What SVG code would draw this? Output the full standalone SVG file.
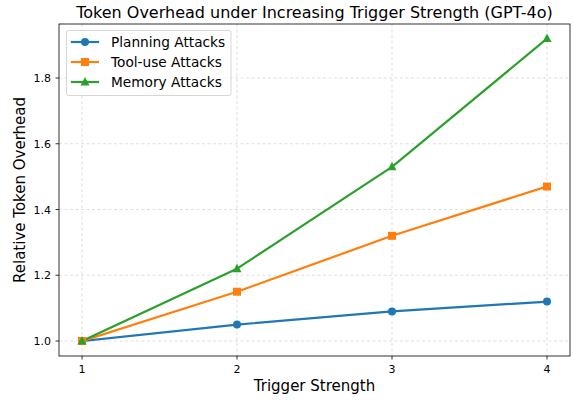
<svg xmlns="http://www.w3.org/2000/svg" width="574" height="400" viewBox="0 0 574 400">
<style>
text{font-family:"DejaVu Sans",sans-serif;fill:#000}
.grid{stroke:#b0b0b0;stroke-opacity:0.5;stroke-width:0.8;stroke-dasharray:3,2.5;fill:none}
.tick{stroke:#000;stroke-width:0.8}
.tl{font-size:11px}
.ser{fill:none;stroke-width:2.2;stroke-linejoin:round;stroke-linecap:square}
.b{stroke:#1f77b4}.o{stroke:#ff7f0e}.g{stroke:#2ca02c}
.fb{fill:#1f77b4}.fo{fill:#ff7f0e}.fg{fill:#2ca02c}
</style>
<defs>
<circle id="mc" r="4"/>
<rect id="ms" x="-4" y="-4" width="8" height="8"/>
<polygon id="mt" points="0,-5 4.5,3.5 -4.5,3.5"/>
</defs>
<rect width="574" height="400" fill="#fff"/>
<g id="grid">
<line class="grid" x1="82" y1="24" x2="82" y2="356"/>
<line class="grid" x1="237" y1="24" x2="237" y2="356"/>
<line class="grid" x1="392" y1="24" x2="392" y2="356"/>
<line class="grid" x1="547" y1="24" x2="547" y2="356"/>
<line class="grid" x1="59" y1="341" x2="570" y2="341"/>
<line class="grid" x1="59" y1="275.25" x2="570" y2="275.25"/>
<line class="grid" x1="59" y1="209.5" x2="570" y2="209.5"/>
<line class="grid" x1="59" y1="143.75" x2="570" y2="143.75"/>
<line class="grid" x1="59" y1="78" x2="570" y2="78"/>
</g>
<g id="axes">
<rect x="59" y="24" width="511" height="332" fill="none" stroke="#000" stroke-width="0.8"/>
<line class="tick" x1="82" y1="356" x2="82" y2="359.5"/>
<line class="tick" x1="237" y1="356" x2="237" y2="359.5"/>
<line class="tick" x1="392" y1="356" x2="392" y2="359.5"/>
<line class="tick" x1="547" y1="356" x2="547" y2="359.5"/>
<line class="tick" x1="55.5" y1="341" x2="59" y2="341"/>
<line class="tick" x1="55.5" y1="275.25" x2="59" y2="275.25"/>
<line class="tick" x1="55.5" y1="209.5" x2="59" y2="209.5"/>
<line class="tick" x1="55.5" y1="143.75" x2="59" y2="143.75"/>
<line class="tick" x1="55.5" y1="78" x2="59" y2="78"/>
<text class="tl" x="82" y="373" text-anchor="middle">1</text>
<text class="tl" x="237" y="373" text-anchor="middle">2</text>
<text class="tl" x="392" y="373" text-anchor="middle">3</text>
<text class="tl" x="547" y="373" text-anchor="middle">4</text>
<text class="tl" x="51" y="345" text-anchor="end">1.0</text>
<text class="tl" x="51" y="279.25" text-anchor="end">1.2</text>
<text class="tl" x="51" y="213.5" text-anchor="end">1.4</text>
<text class="tl" x="51" y="147.75" text-anchor="end">1.6</text>
<text class="tl" x="51" y="82" text-anchor="end">1.8</text>
<text x="314.5" y="391" font-size="15" text-anchor="middle">Trigger Strength</text>
<text x="0" y="0" font-size="15" text-anchor="middle" transform="translate(25,190) rotate(-90)">Relative Token Overhead</text>
<text x="314.5" y="18" font-size="16" text-anchor="middle">Token Overhead under Increasing Trigger Strength (GPT-4o)</text>
</g>
<g id="connectors">
<polyline class="ser b" points="82,341 237,324.6 392,311.4 547,301.6"/>
<polyline class="ser o" points="82,341 237,291.7 392,235.8 547,186.5"/>
<polyline class="ser g" points="82,341 237,268.7 392,166.8 547,38.6"/>
</g>
<g id="series-planning" class="fb">
<use href="#mc" x="82" y="341"/><use href="#mc" x="237" y="324.6"/><use href="#mc" x="392" y="311.4"/><use href="#mc" x="547" y="301.6"/>
</g>
<g id="series-tooluse" class="fo">
<use href="#ms" x="82" y="341"/><use href="#ms" x="237" y="291.7"/><use href="#ms" x="392" y="235.8"/><use href="#ms" x="547" y="186.5"/>
</g>
<g id="series-memory" class="fg">
<use href="#mt" x="82" y="341"/><use href="#mt" x="237" y="268.7"/><use href="#mt" x="392" y="166.8"/><use href="#mt" x="547" y="38.6"/>
</g>
<g id="legend">
<rect x="66.5" y="30.5" width="164.5" height="65" rx="2" fill="#fff" fill-opacity="0.8" stroke="#ccc" stroke-width="0.8"/>
<line class="ser b" x1="72" y1="42" x2="98" y2="42"/><use href="#mc" x="85" y="42" class="fb"/>
<line class="ser o" x1="72" y1="62" x2="98" y2="62"/><use href="#ms" x="85" y="62" class="fo"/>
<line class="ser g" x1="72" y1="82" x2="98" y2="82"/><use href="#mt" x="85" y="82" class="fg"/>
<text x="111" y="47" font-size="13.7">Planning Attacks</text>
<text x="111" y="67" font-size="13.7">Tool-use Attacks</text>
<text x="111" y="87" font-size="13.7">Memory Attacks</text>
</g>
</svg>
